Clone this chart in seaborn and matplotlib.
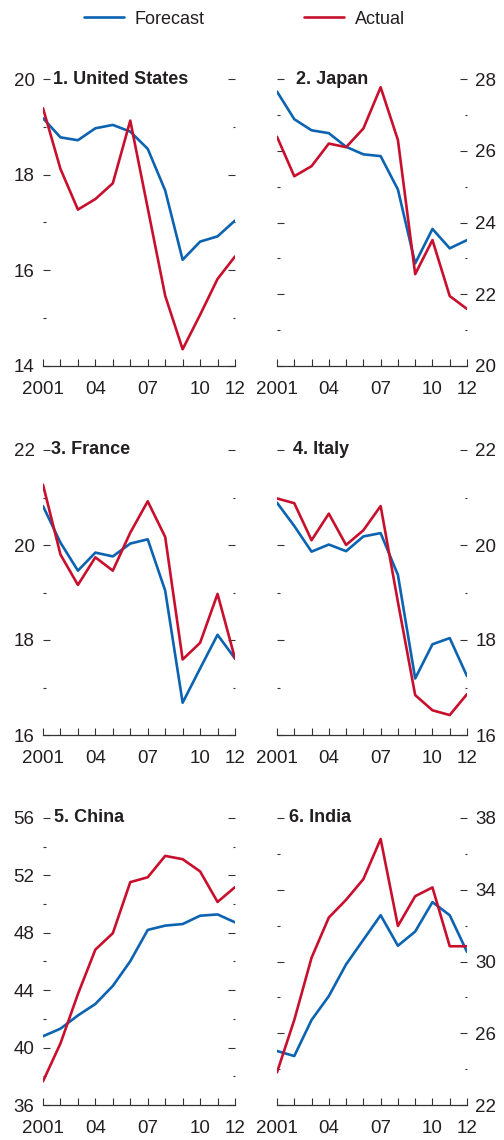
import numpy as np
import pandas as pd
import matplotlib
matplotlib.use("Agg")
import matplotlib.pyplot as plt
from matplotlib.lines import Line2D
import seaborn as sb

sb.set_style("white")
plt.rcParams['font.family'] = ['Liberation Sans', 'DejaVu Sans']

years = list(range(2001, 2013))
year_labels = {2001: "2001", 2004: "04", 2007: "07", 2010: "10", 2012: "12"}

titles = ["1. United States", "2. Japan", "3. France", "4. Italy", "5. China", "6. India"]

us_forecast = [19.18, 18.78, 18.72, 18.97, 19.04, 18.90, 18.54, 17.67, 16.22, 16.60, 16.71, 17.04]
us_actual = [19.39, 18.12, 17.27, 17.49, 17.82, 19.13, 17.30, 15.47, 14.35, 15.07, 15.82, 16.29]
japan_forecast = [27.65, 26.88, 26.57, 26.49, 26.11, 25.90, 25.85, 24.92, 22.86, 23.82, 23.28, 23.51]
japan_actual = [26.39, 25.29, 25.57, 26.20, 26.10, 26.62, 27.77, 26.30, 22.56, 23.51, 21.95, 21.59]
france_forecast = [20.82, 20.05, 19.46, 19.84, 19.76, 20.03, 20.12, 19.04, 16.68, 17.40, 18.11, 17.61]
france_actual = [21.27, 19.80, 19.16, 19.74, 19.46, 20.26, 20.92, 20.17, 17.59, 17.94, 18.97, 17.61]
italy_forecast = [20.89, 20.40, 19.86, 20.01, 19.87, 20.18, 20.25, 19.37, 17.19, 17.91, 18.04, 17.24]
italy_actual = [20.98, 20.88, 20.10, 20.66, 20.00, 20.31, 20.82, 18.80, 16.84, 16.52, 16.42, 16.86]
china_forecast = [40.79, 41.32, 42.24, 43.04, 44.30, 46.02, 48.20, 48.50, 48.61, 49.19, 49.28, 48.73]
china_actual = [37.65, 40.29, 43.73, 46.83, 47.97, 51.53, 51.87, 53.36, 53.13, 52.28, 50.15, 51.18]
india_forecast = [25.01, 24.73, 26.74, 28.07, 29.84, 31.21, 32.58, 30.88, 31.67, 33.31, 32.58, 30.54]
india_actual = [23.82, 26.74, 30.21, 32.45, 33.44, 34.59, 36.83, 31.98, 33.64, 34.13, 30.85, 30.85]

forecasts = [us_forecast, japan_forecast, france_forecast, italy_forecast, china_forecast, india_forecast]
actuals = [us_actual, japan_actual, france_actual, italy_actual, china_actual, india_actual]
ylims = [(14, 20), (20, 28), (16, 22), (16, 22), (36, 56), (22, 38)]
ysteps = [2, 2, 2, 2, 4, 4]

BLUE = "#0b63b2"
RED = "#c8102e"
INK = "#231f20"
TICK = "#333333"
palette = {"Forecast": BLUE, "Actual": RED}

fig = plt.figure(figsize=(5.04, 11.4), dpi=100)
W, H = 504, 1140
# pixel boxes of the plot areas
col_x = [(43, 235), (277, 467)]
row_y = [(79, 366), (450, 735), (818, 1105)]
title_dx = [0.052, 0.10, 0.04, 0.085, 0.058, 0.063]

for k in range(6):
    r, c = divmod(k, 2)
    x0, x1 = col_x[c]
    y0, y1 = row_y[r]
    ax = fig.add_axes([x0 / W, 1 - y1 / H, (x1 - x0) / W, (y1 - y0) / H])
    df = pd.DataFrame({
        "year": years * 2,
        "value": forecasts[k] + actuals[k],
        "series": ["Forecast"] * 12 + ["Actual"] * 12,
    })
    sb.lineplot(data=df, x="year", y="value", hue="series", palette=palette,
                linewidth=1.9, ax=ax, legend=False)
    lo, hi = ylims[k]
    st = ysteps[k]
    ax.set_xlim(2001, 2012)
    ax.set_ylim(lo, hi)
    ax.set_xlabel("")
    ax.set_ylabel("")
    for s in ["top", "left", "right"]:
        ax.spines[s].set_visible(False)
    ax.spines["bottom"].set_color(TICK)
    ax.spines["bottom"].set_linewidth(0.9)

    ax.set_yticks(np.arange(lo, hi + 0.01, st))
    ax.set_yticks(np.arange(lo + st / 2, hi, st), minor=True)
    ax.set_xticks(years)
    ax.set_xticklabels([year_labels.get(y, "") for y in years])

    ax.tick_params(axis="y", which="major", direction="in", left=True, right=True,
                   length=5, width=0.8, color=TICK, labelsize=13.5, labelcolor=INK,
                   labelleft=(c == 0), labelright=(c == 1), pad=6)
    ax.tick_params(axis="y", which="minor", direction="in", left=True, right=True,
                   length=1.8, width=0.8, color=TICK)
    ax.tick_params(axis="x", which="major", direction="in", bottom=True, length=5,
                   width=0.8, color=TICK, labelsize=13.5, labelcolor=INK, pad=11)
    ax.grid(False)
    ax.set_facecolor("none")

    ax.text(title_dx[k], 1.0, titles[k], transform=ax.transAxes, ha="left", va="center",
            fontsize=13, fontweight="bold", color=INK)

handles = [Line2D([], [], color=BLUE, lw=1.9), Line2D([], [], color=RED, lw=1.9)]
fig.legend(handles, ["Forecast", "Actual"], loc="upper center", bbox_to_anchor=(0.485, 1.005),
           ncol=2, frameon=False, fontsize=13, handlelength=2.2, columnspacing=5.5,
           handletextpad=0.6, labelcolor=INK)

fig.savefig("out.png", dpi=100, facecolor="white")
